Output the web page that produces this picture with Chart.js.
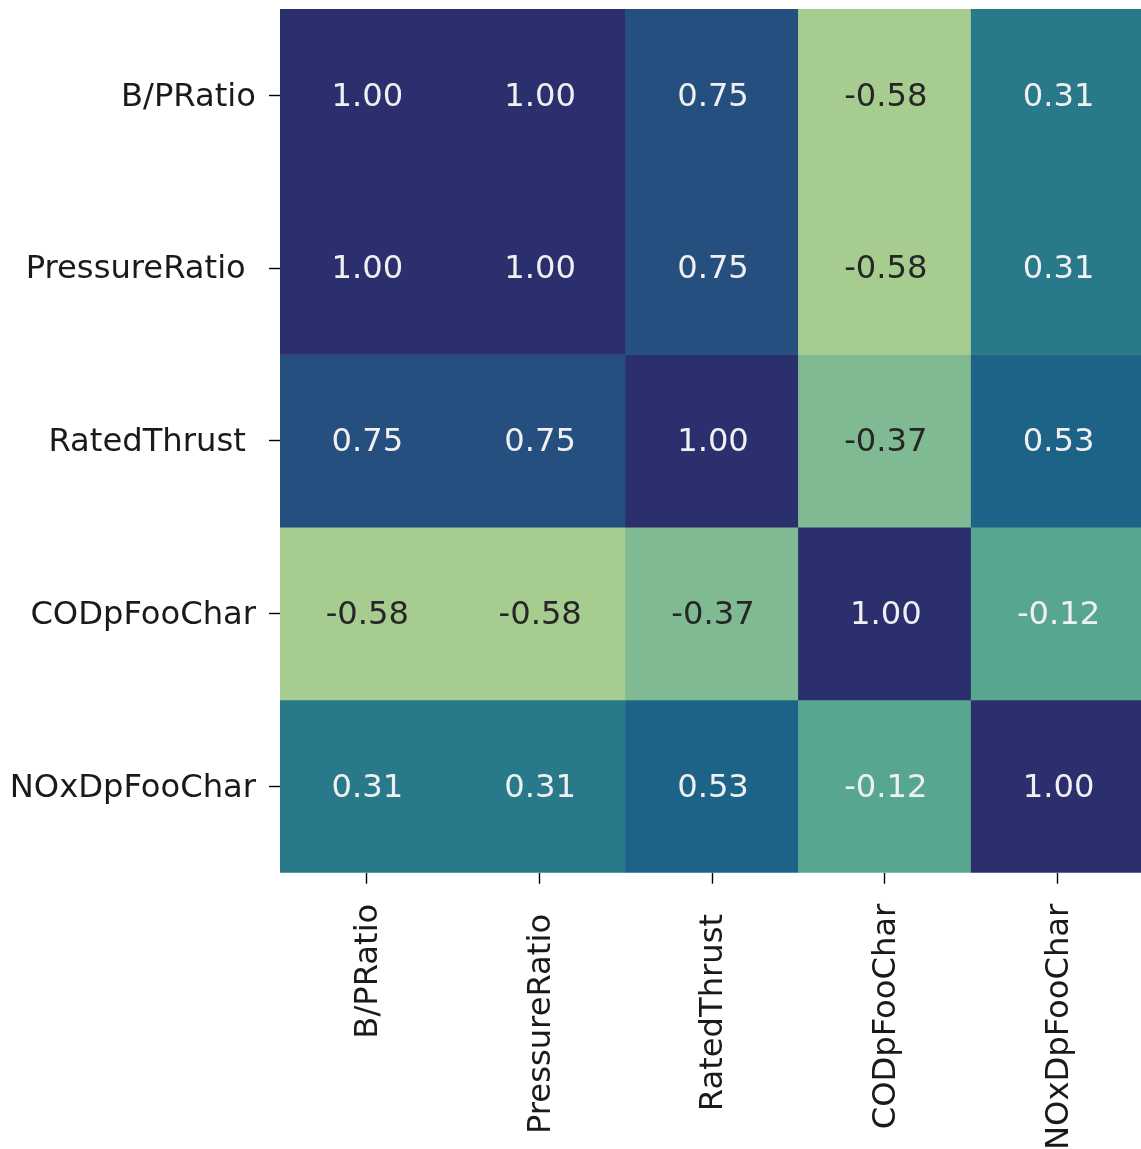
<!DOCTYPE html>
<html>
<head>
<meta charset="utf-8">
<script src="https://cdn.jsdelivr.net/npm/chart.js@4/dist/chart.umd.min.js"></script>
<style>
  html, body { margin: 0; padding: 0; background: #ffffff; overflow: hidden; }
  #wrap { width: 1144px; height: 1149px; }
</style>
</head>
<body>
<div id="wrap"><canvas id="heat" width="1144" height="1149"></canvas></div>
<script>
// Variable names (same order on both axes)
const variables = ['B/PRatio', 'PressureRatio ', 'RatedThrust ', 'CODpFooChar', 'NOxDpFooChar'];

// Correlation matrix, one row per variable
const rowBPRatio      = [1.00, 1.00, 0.75, -0.58, 0.31];
const rowPressure     = [1.00, 1.00, 0.75, -0.58, 0.31];
const rowThrust       = [0.75, 0.75, 1.00, -0.37, 0.53];
const rowCODp         = [-0.58, -0.58, -0.37, 1.00, -0.12];
const rowNOxDp        = [0.31, 0.31, 0.53, -0.12, 1.00];
const matrixRows = [rowBPRatio, rowPressure, rowThrust, rowCODp, rowNOxDp];

// Colour scale limits
const vmin = -0.58;
const vmax = 1.00;

// "crest"-like colour ramp: light green -> teal -> deep navy
const rampStops = [
  [0.000, [166, 205, 143]],
  [0.133, [127, 186, 146]],
  [0.291, [ 87, 166, 144]],
  [0.563, [ 40, 122, 139]],
  [0.703, [ 29,  99, 135]],
  [0.842, [ 36,  79, 126]],
  [1.000, [ 44,  47, 110]]
];

function rampRGB(v) {
  let t = (v - vmin) / (vmax - vmin);
  t = Math.max(0, Math.min(1, t));
  for (let k = 1; k < rampStops.length; k++) {
    const [t1, c1] = rampStops[k];
    const [t0, c0] = rampStops[k - 1];
    if (t <= t1) {
      const f = (t - t0) / (t1 - t0);
      return c0.map((c, i) => Math.round(c + (c1[i] - c) * f));
    }
  }
  return rampStops[rampStops.length - 1][1];
}
function rampColor(v) {
  const c = rampRGB(v);
  return `rgb(${c[0]},${c[1]},${c[2]})`;
}
// Pick dark or light annotation text depending on cell brightness
function textColorFor(v) {
  const c = rampRGB(v).map(x => {
    x /= 255;
    return x <= 0.03928 ? x / 12.92 : Math.pow((x + 0.055) / 1.055, 2.4);
  });
  const lum = 0.2126 * c[0] + 0.7152 * c[1] + 0.0722 * c[2];
  return lum > 0.408 ? '#262626' : '#f0f0f0';
}

const FONT = 'DejaVu Sans';
const FONT_SIZE = 32.2;

// One floating-bar dataset per matrix row; each bar spans its row band
const datasets = matrixRows.map((row, r) => ({
  label: variables[r],
  data: row.map(() => [r - 0.5, r + 0.5]),
  values: row,
  backgroundColor: row.map(rampColor),
  borderWidth: 0,
  borderSkipped: false,
  grouped: false,
  barPercentage: 1.0,
  categoryPercentage: 1.0
}));

// Writes each cell's value at the centre of its bar
const cellLabels = {
  id: 'cellLabels',
  afterDatasetsDraw(chart) {
    const ctx = chart.ctx;
    ctx.save();
    ctx.font = `${FONT_SIZE}px "${FONT}"`;
    ctx.textAlign = 'center';
    ctx.textBaseline = 'middle';
    chart.data.datasets.forEach((ds, di) => {
      const meta = chart.getDatasetMeta(di);
      meta.data.forEach((bar, j) => {
        const v = ds.values[j];
        const cy = (bar.y + bar.base) / 2;
        ctx.fillStyle = textColorFor(v);
        ctx.fillText(v.toFixed(2), bar.x + 1, cy + 2);
      });
    });
    ctx.restore();
  }
};

new Chart(document.getElementById('heat'), {
  type: 'bar',
  data: { labels: variables, datasets },
  plugins: [cellLabels],
  options: {
    responsive: false,
    animation: false,
    events: [],
    layout: { padding: { top: 9, left: 0, right: 0, bottom: 0 } },
    plugins: {
      legend: { display: false },
      tooltip: { enabled: false },
      title: { display: false }
    },
    scales: {
      x: {
        type: 'category',
        offset: true,
        border: { display: false },
        grid: {
          display: true,
          drawOnChartArea: false,
          drawTicks: true,
          tickLength: 11,
          tickWidth: 1.4,
          tickColor: '#000000',
          offset: false
        },
        ticks: {
          autoSkip: false,
          minRotation: 90,
          maxRotation: 90,
          padding: 20,
          labelOffset: 2,
          color: '#1a1a1a',
          font: { family: FONT, size: FONT_SIZE }
        },
        afterFit(scale) {
          scale.height = 1149 - 872.7;
          scale.paddingLeft = 0;
          scale.paddingRight = 0;
        }
      },
      y: {
        type: 'linear',
        min: -0.5,
        max: 4.5,
        reverse: true,
        border: { display: false },
        grid: {
          display: true,
          drawOnChartArea: false,
          drawTicks: true,
          tickLength: 11,
          tickWidth: 1.4,
          tickColor: '#000000'
        },
        afterBuildTicks(scale) {
          scale.ticks = variables.map((_, i) => ({ value: i }));
        },
        ticks: {
          padding: 13,
          labelOffset: 2,
          color: '#1a1a1a',
          font: { family: FONT, size: FONT_SIZE },
          callback: (value) => variables[value]
        },
        afterFit(scale) {
          scale.width = 280;
          scale.paddingTop = 0;
          scale.paddingBottom = 0;
        }
      }
    }
  }
});
</script>
</body>
</html>
